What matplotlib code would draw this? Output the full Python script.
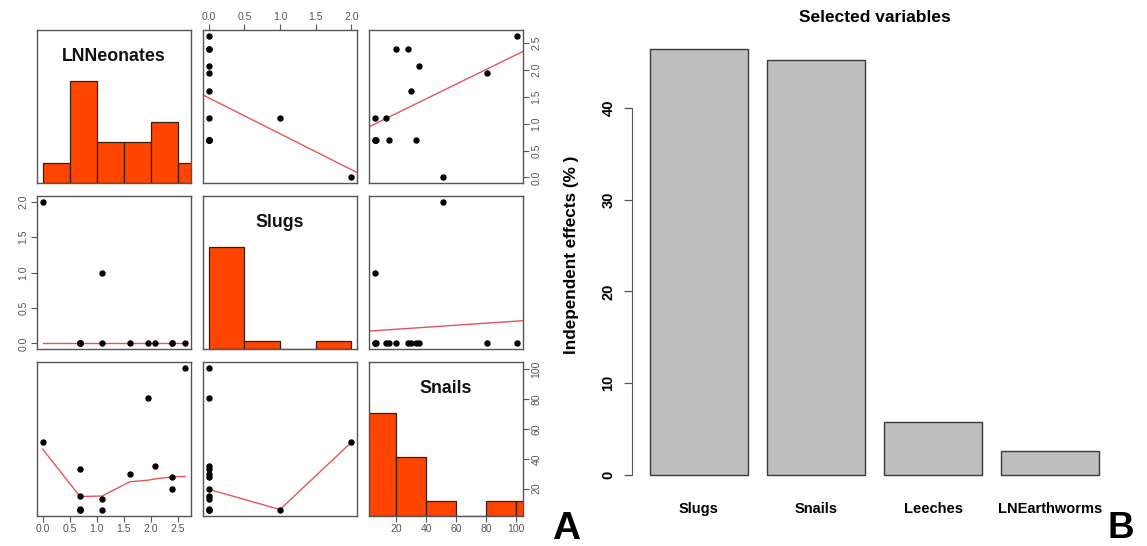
import numpy as np
import matplotlib.pyplot as plt

plt.rcParams['font.family'] = ['Liberation Sans', 'DejaVu Sans']

# site-level variables (14 sites)
ln_neonates = [0.00, 0.69, 0.69, 0.69, 0.69, 0.69, 1.10, 1.10, 1.61, 1.95, 2.08, 2.40, 2.40, 2.64]
slugs = [2, 0, 0, 0, 0, 0, 1, 0, 0, 0, 0, 0, 0, 0]
snails = [51, 6, 5.5, 6.5, 15, 33, 6, 13.4, 30, 81, 35, 20, 27.5, 101]

var_names = ['LNNeonates', 'Slugs', 'Snails']
hist_breaks = [np.arange(0, 3.01, 0.5), np.arange(0, 2.01, 0.5), np.arange(0, 121, 20)]
tick_sets = [[0, 0.5, 1.0, 1.5, 2.0, 2.5], [0, 0.5, 1.0, 1.5, 2.0], [20, 40, 60, 80, 100]]
tick_fmt = ['{:.1f}', '{:.1f}', '{:.0f}']

# hierarchical partitioning result
hp_vars = ['Slugs', 'Snails', 'Leeches', 'LNEarthworms']
hp_effects = [46.4, 45.2, 5.8, 2.6]

W, H = 1147, 546
HIST_COL = '#ff4500'
LINE_COL = '#e4555a'
AX_COL = '#555555'


def px_axes(fig, x0, y0, x1, y1):
    return fig.add_axes([x0 / W, 1 - y1 / H, (x1 - x0) / W, (y1 - y0) / H])


def padded(v):
    lo, hi = np.min(v), np.max(v)
    r = hi - lo
    return lo - 0.04 * r, hi + 0.04 * r


def r_hist(v, breaks):
    # right-closed bins, lowest break included
    idx = np.searchsorted(breaks, v, side='left') - 1
    idx = np.clip(idx, 0, len(breaks) - 2)
    return np.bincount(idx, minlength=len(breaks) - 1)


def _lowest(x, y, xs, nleft, nright, rw, userw):
    n = len(x)
    rng = x[-1] - x[0]
    h = max(xs - x[nleft], x[nright] - xs)
    h9, h1 = 0.999 * h, 0.001 * h
    w = np.zeros(n)
    a = 0.0
    j = nleft
    while j < n:
        r = abs(x[j] - xs)
        if r <= h9:
            w[j] = 1.0 if r <= h1 else (1 - (r / h) ** 3) ** 3
            if userw:
                w[j] *= rw[j]
            a += w[j]
        elif x[j] > xs:
            break
        j += 1
    nrt = j - 1
    if a <= 0:
        return None
    sl = slice(nleft, nrt + 1)
    w[sl] /= a
    if h > 0:
        a = np.sum(w[sl] * x[sl])
        b = xs - a
        c = np.sum(w[sl] * (x[sl] - a) ** 2)
        if np.sqrt(c) > 0.001 * rng:
            b /= c
            w[sl] = w[sl] * (b * (x[sl] - a) + 1)
    return np.sum(w[sl] * y[sl])


def lowess(x, y, f=2 / 3, iters=3):
    order = np.argsort(x, kind='stable')
    x = np.asarray(x, float)[order]
    y = np.asarray(y, float)[order]
    n = len(x)
    delta = 0.01 * (x[-1] - x[0])
    ns = max(2, min(n, int(f * n + 1e-7)))
    ys = np.zeros(n)
    rw = np.ones(n)
    for it in range(iters + 1):
        nleft, nright, last, i = 0, ns - 1, -1, 0
        while True:
            while nright < n - 1:
                d1 = x[i] - x[nleft]
                d2 = x[nright + 1] - x[i]
                if d1 <= d2:
                    break
                nleft += 1
                nright += 1
            val = _lowest(x, y, x[i], nleft, nright, rw, it > 0)
            ys[i] = y[i] if val is None else val
            if last < i - 1:
                denom = x[i] - x[last]
                for j in range(last + 1, i):
                    alpha = (x[j] - x[last]) / denom
                    ys[j] = alpha * ys[i] + (1 - alpha) * ys[last]
            last = i
            cut = x[last] + delta
            i = last + 1
            while i < n:
                if x[i] > cut:
                    break
                if x[i] == x[last]:
                    ys[i] = ys[last]
                    last = i
                i += 1
            i = max(last + 1, i - 1)
            if last >= n - 1:
                break
        res = y - ys
        if it == iters:
            break
        ares = np.abs(res)
        cmad = 6 * np.median(ares)
        if cmad < 1e-7 * np.mean(ares):
            break
        rw = np.where(ares <= 0.001 * cmad, 1.0,
                      np.where(ares <= 0.999 * cmad, (1 - (ares / cmad) ** 2) ** 2, 0.0))
    return x, ys


def style_ticks(axis_obj, ticks, fmt, rotate):
    axis_obj.set_ticks(ticks)
    labels = [fmt.format(t) for t in ticks]
    if rotate:
        axis_obj.set_ticklabels(labels, rotation=90, va='center')
    else:
        axis_obj.set_ticklabels(labels)


fig = plt.figure(figsize=(W / 100, H / 100), dpi=100)

data = [np.array(ln_neonates), np.array(slugs, float), np.array(snails, float)]
col_px = [(37, 191), (203, 357), (369, 523)]
row_px = [(30, 183), (196, 349), (362, 516)]

for i in range(3):
    for j in range(3):
        ax = px_axes(fig, col_px[j][0], row_px[i][0], col_px[j][1], row_px[i][1])
        x, y = data[j], data[i]
        xlim = padded(x)
        ax.set_xlim(xlim)
        if i == j:
            br = hist_breaks[i]
            cnt = r_hist(x, br)
            ax.bar(br[:-1], cnt / cnt.max(), width=np.diff(br), align='edge',
                   color=HIST_COL, edgecolor='#3b1d12', linewidth=0.9)
            ax.set_ylim(0, 1.5)
            ax.text(0.5, 0.83, var_names[i], transform=ax.transAxes, ha='center',
                    va='center', fontsize=12.8, fontweight='bold', color='#111111')
        else:
            ax.set_ylim(padded(y))
            if i < j:
                k, b = np.polyfit(x, y, 1)
                xx = np.array(xlim)
                ax.plot(xx, k * xx + b, color=LINE_COL, lw=1.0)
            else:
                sx, sy = lowess(x, y)
                ax.plot(sx, sy, color=LINE_COL, lw=1.0)
            ax.plot(x, y, 'o', color='black', ms=3.6, mec='black')

        for s in ax.spines.values():
            s.set_color(AX_COL)
            s.set_linewidth(1.0)
        ax.tick_params(length=4, width=0.8, color=AX_COL, labelcolor=AX_COL,
                       labelsize=7.5, pad=2)
        ax.set_xticks([])
        ax.set_yticks([])

        # outer axes alternate sides like R's pairs()
        if i == 0 and j == 1:
            ax.xaxis.tick_top()
            style_ticks(ax.xaxis, tick_sets[1], tick_fmt[1], False)
        if i == 2 and j in (0, 2):
            style_ticks(ax.xaxis, tick_sets[j], tick_fmt[j], False)
        if i == 1 and j == 0:
            style_ticks(ax.yaxis, tick_sets[1], tick_fmt[1], True)
        if j == 2 and i in (0, 2):
            tax = ax.twinx() if i == j else ax
            if i == j:
                tax.set_ylim(padded(data[2]))
                for s in tax.spines.values():
                    s.set_visible(False)
                tax.tick_params(length=4, width=0.8, color=AX_COL, labelcolor=AX_COL,
                                labelsize=7.5, pad=2)
            tax.yaxis.tick_right()
            style_ticks(tax.yaxis, tick_sets[i], tick_fmt[i], True)

# bar chart of independent effects
bx = px_axes(fig, 632, 32, 1117, 492)
pos = 0.2 + 1.2 * np.arange(len(hp_vars)) + 0.5
bx.bar(pos, hp_effects, width=1.0, color='#bebebe', edgecolor='#3a3a3a', linewidth=1.0)
top = max(hp_effects)
bx.set_xlim(pos[0] - 0.5 - 0.04 * 4.6, pos[-1] + 0.5 + 0.04 * 4.6)
bx.set_ylim(-0.04 * top, 1.04 * top)
for side in ('top', 'right', 'bottom'):
    bx.spines[side].set_visible(False)
bx.spines['left'].set_bounds(0, 40)
bx.spines['left'].set_color(AX_COL)
bx.set_yticks([0, 10, 20, 30, 40])
bx.set_yticklabels(['0', '10', '20', '30', '40'], rotation=90, va='center',
                   fontweight='bold')
bx.tick_params(axis='y', length=6, width=0.9, color=AX_COL, labelsize=10.5, pad=6)
bx.set_xticks(pos)
bx.set_xticklabels(hp_vars, fontweight='bold', fontsize=10.5)
bx.tick_params(axis='x', length=0, pad=7)
bx.set_title('Selected variables', fontweight='bold', fontsize=12.5, pad=7)
bx.set_ylabel('Independent effects (% )', fontweight='bold', fontsize=12.3)
bx.yaxis.set_label_coords(-0.11, 0.515)

fig.text(566 / W, 1 - 529 / H, 'A', fontsize=28, fontweight='bold', ha='center', va='center')
fig.text(1121 / W, 1 - 529 / H, 'B', fontsize=26.5, fontweight='bold', ha='center', va='center')

fig.savefig('out.png', dpi=100)
